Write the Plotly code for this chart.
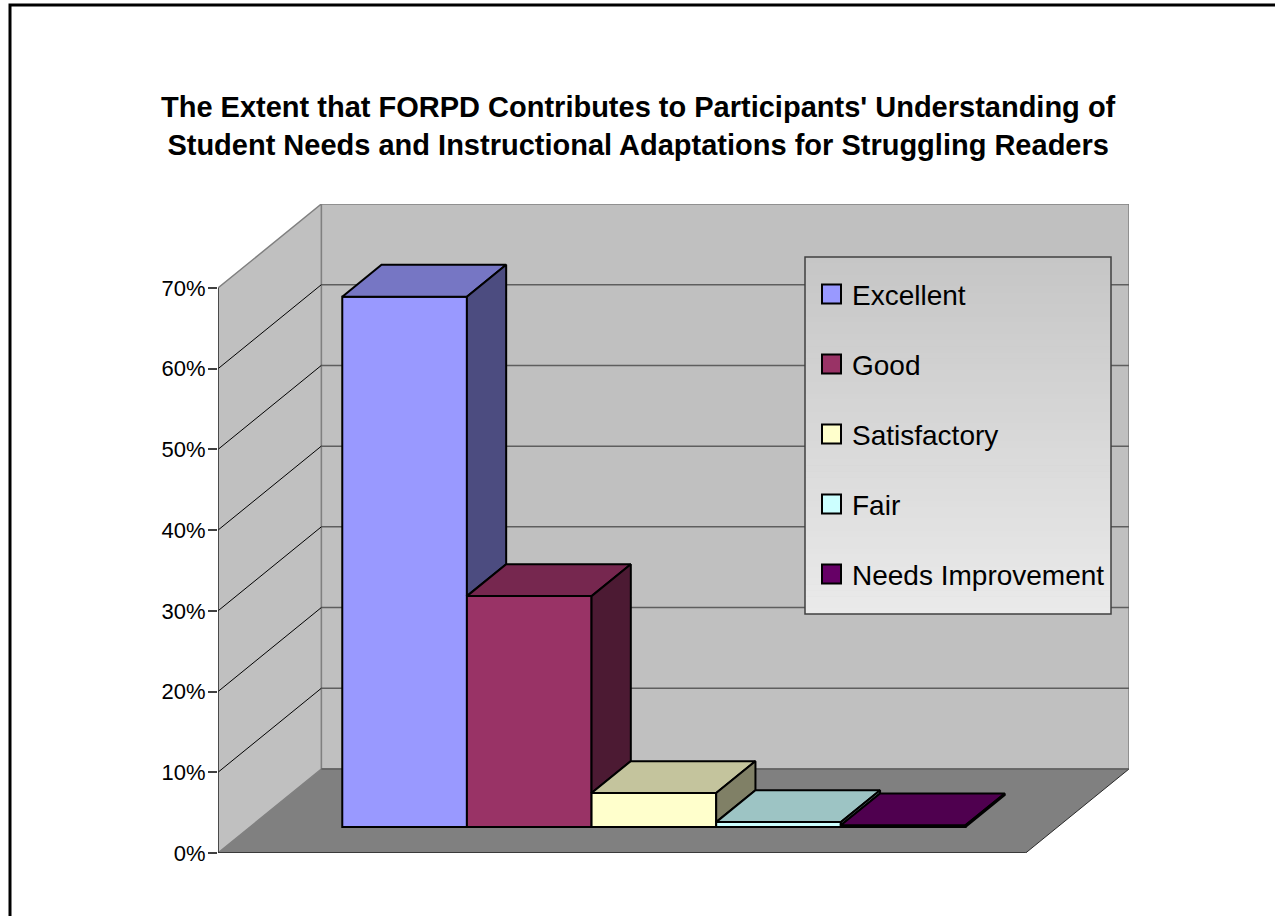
import plotly.graph_objects as go

# ---- data -------------------------------------------------------------
categories = ["Excellent", "Good", "Satisfactory", "Fair", "Needs Improvement"]
percent_values = [65.7, 28.6, 4.2, 0.6, 0.2]
front_colors = ["#9999FF", "#993366", "#FFFFCC", "#CCFFFF", "#660066"]
tick_values = [0, 10, 20, 30, 40, 50, 60, 70]
tick_labels = ["0%", "10%", "20%", "30%", "40%", "50%", "60%", "70%"]
title_lines = [
    "The Extent that FORPD Contributes to Participants' Understanding of",
    "Student Needs and Instructional Adaptations for Struggling Readers",
]

# ---- page / projection settings --------------------------------------
W, H = 1275, 916
ML, MR, MT, MB = 218, 146, 204, 63
PW, PH = W - ML - MR, H - MT - MB

FONT = "Liberation Sans, Arial, sans-serif"
DX = 0.829          # horizontal shift of the full floor depth (category units)
DYP = 10.41         # vertical shift of the full floor depth (percent units)
SIDE_PAD = 0.74     # floor margin beside the outer bars
ZF, ZB = 0.31, 0.69 # front / back depth of the columns (fraction of floor depth)
YTOP = tick_values[-1]

n = len(categories)
XMIN = -0.5 - SIDE_PAD
XFR = n - 0.5 + SIDE_PAD
XMAX = XFR + DX
YMAX = YTOP + DYP


def shade(hex_color, f):
    h = hex_color.lstrip("#")
    r, g, b = (int(h[i:i + 2], 16) for i in (0, 2, 4))
    return "#%02X%02X%02X" % (round(r * f), round(g * f), round(b * f))


def path(pts):
    return "M " + " L ".join(f"{x:.4f},{y:.4f}" for x, y in pts) + " Z"


def px_x(p):
    return (p - ML) / PW


def px_y(p):
    return (H - MB - p) / PH


shapes = []

# walls and floor
shapes.append(dict(type="rect", xref="x", yref="y", layer="below",
                   x0=XMIN + DX, x1=XFR + DX, y0=DYP, y1=YMAX,
                   fillcolor="#C0C0C0", line=dict(color="#808080", width=1.5)))
shapes.append(dict(type="path", xref="x", yref="y", layer="below",
                   path=path([(XMIN, 0), (XMIN, YTOP), (XMIN + DX, YMAX), (XMIN + DX, DYP)]),
                   fillcolor="#C0C0C0", line=dict(color="#808080", width=1.5)))
shapes.append(dict(type="path", xref="x", yref="y", layer="below",
                   path=path([(XMIN, 0), (XFR, 0), (XFR + DX, DYP), (XMIN + DX, DYP)]),
                   fillcolor="#808080", line=dict(width=0)))
# floor edges
shapes.append(dict(type="line", xref="x", yref="y", layer="below",
                   x0=XMIN, x1=XFR, y0=0, y1=0, line=dict(color="#3A3A3A", width=2)))
shapes.append(dict(type="line", xref="x", yref="y", layer="below",
                   x0=XFR, x1=XFR + DX, y0=0, y1=DYP, line=dict(color="#2A2A2A", width=1)))

# gridlines on the back wall and the side wall
for v in tick_values[:-1]:
    shapes.append(dict(type="line", xref="x", yref="y", layer="below",
                       x0=XMIN + DX, x1=XFR + DX, y0=v + DYP, y1=v + DYP,
                       line=dict(color="#5E5E5E", width=1.5)))
    if v > 0:
        shapes.append(dict(type="line", xref="x", yref="y", layer="below",
                           x0=XMIN, x1=XMIN + DX, y0=v, y1=v + DYP,
                           line=dict(color="#000000", width=1)))
# front edge of the side wall (value axis line)
shapes.append(dict(type="line", xref="x", yref="y", layer="below",
                   x0=XMIN, x1=XMIN, y0=0, y1=YTOP, line=dict(color="#333333", width=1.5)))

# ---- columns ---------------------------------------------------------
fig = go.Figure()
base = ZF * DYP
depth_x = (ZB - ZF) * DX
depth_y = (ZB - ZF) * DYP
front_x = [i + ZF * DX for i in range(n)]

fig.add_trace(go.Bar(
    x=front_x, y=percent_values, base=[base] * n, width=1,
    marker=dict(color=front_colors, line=dict(color="#000000", width=2)),
    showlegend=False, hoverinfo="skip",
))

for i, (v, c) in enumerate(zip(percent_values, front_colors)):
    left = front_x[i] - 0.5
    right = front_x[i] + 0.5
    top = base + v
    # top face
    tx = [left, right, right + depth_x, left + depth_x, left]
    ty = [top, top, top + depth_y, top + depth_y, top]
    fig.add_trace(go.Scatter(x=tx, y=ty, fill="toself", fillcolor=shade(c, 0.77),
                             mode="lines", line=dict(color="#000000", width=2),
                             showlegend=False, hoverinfo="skip"))
    # visible part of the right-hand face
    lo = min(percent_values[i + 1], v) if i + 1 < n else 0.0
    sx = [right, right, right + depth_x, right + depth_x, right]
    sy = [base + lo, top, top + depth_y, base + lo + depth_y, base + lo]
    fig.add_trace(go.Scatter(x=sx, y=sy, fill="toself", fillcolor=shade(c, 0.5),
                             mode="lines", line=dict(color="#000000", width=2),
                             showlegend=False, hoverinfo="skip"))

# ---- legend box ------------------------------------------------------
LX0, LX1, LY0, LY1 = 805, 1111, 257, 614
steps = 60
top_rgb, bot_rgb = (198, 198, 198), (234, 234, 234)
for k in range(steps):
    t = k / (steps - 1)
    col = tuple(round(a + (b - a) * t) for a, b in zip(top_rgb, bot_rgb))
    y0 = LY0 + (LY1 - LY0) * k / steps
    y1 = LY0 + (LY1 - LY0) * (k + 1) / steps + 0.6
    shapes.append(dict(type="rect", xref="paper", yref="paper", layer="above",
                       x0=px_x(LX0), x1=px_x(LX1), y0=px_y(y0), y1=px_y(min(y1, LY1)),
                       fillcolor="rgb(%d,%d,%d)" % col, line=dict(width=0)))
shapes.append(dict(type="rect", xref="paper", yref="paper", layer="above",
                   x0=px_x(LX0), x1=px_x(LX1), y0=px_y(LY0), y1=px_y(LY1),
                   fillcolor="rgba(0,0,0,0)", line=dict(color="#404040", width=1.5)))

annotations = []
ROW0, ROW_STEP = 294, 70
for k, (name, c) in enumerate(zip(categories, front_colors)):
    cy = ROW0 + ROW_STEP * k
    shapes.append(dict(type="rect", xref="paper", yref="paper", layer="above",
                       x0=px_x(822), x1=px_x(841), y0=px_y(cy - 9.5), y1=px_y(cy + 9.5),
                       fillcolor=c, line=dict(color="#000000", width=2)))
    annotations.append(dict(xref="paper", yref="paper", x=px_x(850), y=px_y(cy + 1),
                            xanchor="left", yanchor="middle", showarrow=False,
                            text=name, font=dict(family=FONT, size=28, color="#000000")))

# title
annotations.append(dict(xref="paper", yref="paper", x=px_x(638), y=px_y(126),
                        xanchor="center", yanchor="middle", showarrow=False,
                        text="<b>" + "<br>".join(title_lines) + "</b>",
                        font=dict(family=FONT, size=29, color="#000000")))

# chart frame
shapes.append(dict(type="rect", xref="paper", yref="paper", layer="above",
                   x0=px_x(10), x1=px_x(1300), y0=px_y(5), y1=px_y(940),
                   fillcolor="rgba(0,0,0,0)", line=dict(color="#000000", width=3)))

fig.update_layout(
    width=W, height=H,
    margin=dict(l=ML, r=MR, t=MT, b=MB, pad=0),
    paper_bgcolor="#FFFFFF", plot_bgcolor="rgba(0,0,0,0)",
    template="none",
    barmode="overlay",
    showlegend=False,
    shapes=shapes,
    annotations=annotations,
    xaxis=dict(range=[XMIN, XMAX], visible=False, fixedrange=True, automargin=False),
    yaxis=dict(range=[0, YMAX], tickvals=tick_values, ticktext=tick_labels,
               showgrid=False, zeroline=False, showline=False,
               ticks="outside", ticklen=9, tickwidth=1.5, tickcolor="#404040",
               ticklabelstandoff=-2,
               tickfont=dict(family=FONT, size=22, color="#000000"),
               fixedrange=True, automargin=False),
)

fig.write_html("out.html")
